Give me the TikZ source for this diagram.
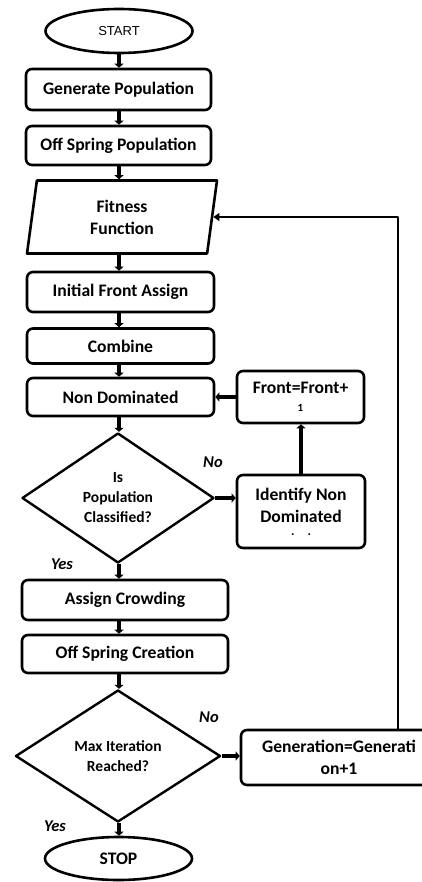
\documentclass[tikz,border=0pt]{standalone}
\usepackage{fontspec}
\setmainfont{Carlito}
\newfontfamily\startfont{Liberation Sans}
\usetikzlibrary{shapes.geometric,arrows.meta}
\begin{document}
\begin{tikzpicture}[x=1pt,y=-1pt,line join=round,
    font=\fontsize{17.6}{22}\selectfont\bfseries,
    box/.style={draw,line width=2.6pt,rounded corners=6pt,minimum height=39pt,inner sep=0pt},
    term/.style={draw,ellipse,line width=2.6pt,minimum width=147pt,minimum height=44pt,inner sep=0pt},
    decide/.style={draw,diamond,line width=2.4pt,inner sep=0pt,align=center,font=\fontsize{15.5}{20}\selectfont\bfseries},
    io/.style={draw,trapezium,trapezium left angle=74,trapezium right angle=106,trapezium stretches body,
      line width=2.6pt,align=center,minimum width=190pt,minimum height=73pt,inner sep=0pt},
    arr/.style={line width=3.5pt,-{Triangle[length=4pt,width=9pt]}},
    lbl/.style={font=\fontsize{16.5}{18}\selectfont\bfseries\itshape}]
\useasboundingbox (0,0) rectangle (421,882);
% main column
\node[term,font=\startfont\fontsize{13}{15}\selectfont] (start) at (119,31) {START};
\node[box,minimum width=185pt,minimum height=41pt] (gen) at (118.5,89.5) {Generate Population};
\node[box,minimum width=185pt] (off) at (118.5,145.5) {Off Spring Population};
\node[io] (fit) at (122,217) {Fitness\\Function};
\node[box,minimum width=187pt,minimum height=40pt] (init) at (120.5,292) {Initial Front Assign};
\node[box,minimum width=187pt,minimum height=35pt] (comb) at (120.5,346) {Combine};
\node[box,minimum width=187pt,minimum height=38pt] (nondom) at (120.5,397) {Non Dominated};
\node[decide,minimum width=192pt,minimum height=130pt] (cls) at (118,498) {Is\\Population\\Classified?};
\node[box,minimum width=206pt,minimum height=40pt] (crowd) at (125,600) {Assign Crowding};
\node[box,minimum width=206pt,minimum height=38pt] (create) at (125,654) {Off Spring Creation};
\node[decide,minimum width=205pt,minimum height=132pt] (maxit) at (118,756) {Max Iteration\\Reached?};
\node[term,minimum width=147pt,minimum height=43pt] (stop) at (118.5,858.5) {STOP};
% side boxes
\node[box,minimum width=127pt,minimum height=52pt,align=center] (front) at (300.5,397)
  {Front=Front+\\[-4pt]{\fontsize{11}{11}\selectfont 1}};
\node[box,minimum width=128pt,minimum height=73pt,align=center] (ident) at (301,511.5)
  {Identify Non\\Dominated\\[-9pt]{\fontsize{13}{13}\selectfont .\quad.}};
\node[box,minimum width=196pt,minimum height=55pt,align=center] (next) at (339,757.5)
  {Generation=Generati\\on+1};
\coordinate (loop) at (398,0);
% labels
\node[lbl] (no1) at (213,462) {No};
\node[lbl] (yes1) at (62,564) {Yes};
\node[lbl] (no2) at (209,717) {No};
\node[lbl] (yes2) at (55,826) {Yes};
% connectors
\foreach \a/\b in {start/gen,gen/off,off/fit,fit/init,init/comb,comb/nondom,nondom/cls,cls/crowd,crowd/create,create/maxit,maxit/stop}
  \draw[arr] (\a.south -| start) -- (\b.north -| start);
\draw[arr] (cls.east) -- (cls.east -| ident.west);
\draw[arr] (ident.north) -- (ident.north |- front.south);
\draw[arr] (front.west) -- (nondom.east);
\draw[arr] (maxit.east) -- (maxit.east -| next.west);
\draw[line width=2.4pt,-{Triangle[length=6pt,width=8pt]}] (next.north -| loop) |- (fit.east);
\end{tikzpicture}
\end{document}
